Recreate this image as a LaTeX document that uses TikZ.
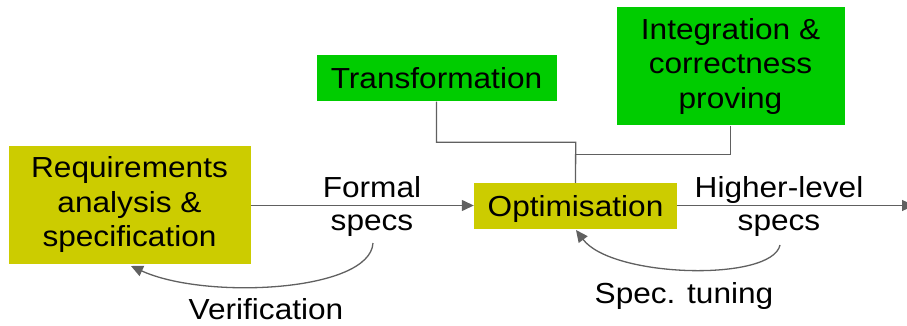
\documentclass[tikz,border=0pt]{standalone}
\usepackage{fontspec}
\setmainfont{Liberation Sans}[FakeStretch=1.09]
\usetikzlibrary{arrows.meta}
\definecolor{olivebox}{HTML}{CCCC00}
\definecolor{greenbox}{HTML}{00CC00}
\definecolor{linegray}{HTML}{606060}
\begin{document}
\begin{tikzpicture}[x=1pt,y=-1pt,
  box/.style={inner sep=0pt,align=center,font=\fontsize{29}{34.5}\selectfont},
  oliveb/.style={box,fill=olivebox},
  greenb/.style={box,fill=greenbox},
  lbl/.style={inner sep=0pt,align=center,font=\fontsize{29}{33}\selectfont},
  conn/.style={draw=linegray,line width=1.3pt},
  arr/.style={conn,-{Triangle[length=12pt,width=11pt]},fill=none},
]
\useasboundingbox (0,0) rectangle (907,326);
\node[oliveb,minimum width=242pt,minimum height=118pt] (req) at (129.5,205) {Requirements\\analysis \&\\specification};
\node[greenb,minimum width=240pt,minimum height=46pt] (tra) at (436.5,78.5) {Transformation};
\node[greenb,minimum width=228pt,minimum height=118pt] (int) at (730.5,66.5) {Integration \&\\correctness\\proving};
\node[oliveb,minimum width=203pt,minimum height=46pt,text depth=0pt] (opt) at (575.5,206) {Optimisation};
\node[lbl] (fs) at (372,207) {Formal\\specs};
\node[lbl] (hs) at (779,207) {Higher-level\\specs};
\node[lbl] (ver) at (266,309) {Verification};
\node[lbl] (tun) at (684,296) {Spec. tuning};
\coordinate (j1) at (575.7,142.3);
\coordinate (j2) at (575.7,154.3);
\coordinate (out) at (914,205.5);
\coordinate (vs) at (373,243);
\coordinate (ve) at (131,266);
\coordinate (ts) at (780,245);
\coordinate (te) at (576,230);
% tree connectors
\draw[conn] (tra.south) |- (j1) -- (opt.north);
\draw[conn] (int.south) |- (j2);
% main arrows
\draw[arr] (req.east |- 0,205.5) -- (opt.west |- 0,205.5);
\draw[arr] (opt.east |- 0,205.5) -- (out);
% feedback curves
\draw[arr] (vs) .. controls (370,292) and (205,300) .. (ve);
\draw[arr] (ts) .. controls (772,282) and (612,278) .. (te);
\end{tikzpicture}
\end{document}
